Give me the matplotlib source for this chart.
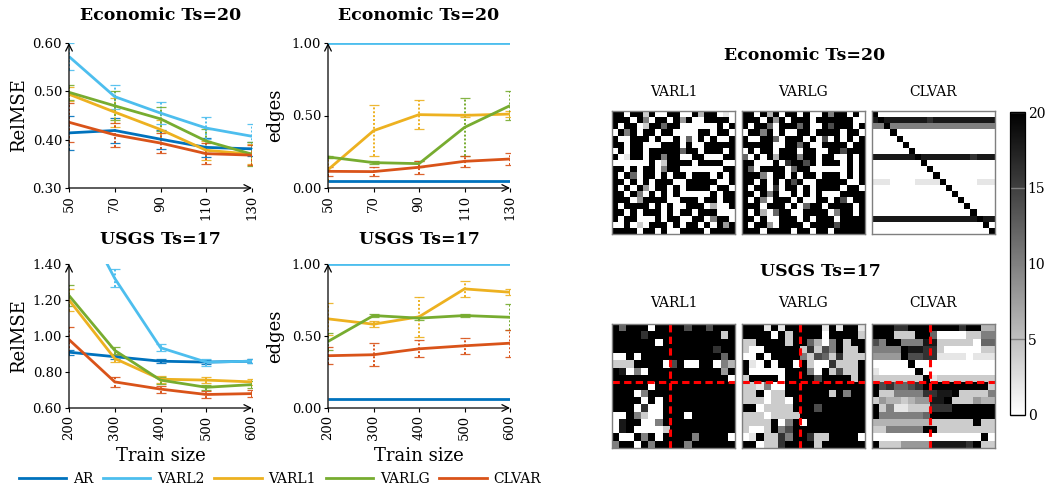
import numpy as np
import matplotlib
matplotlib.use("Agg")
import matplotlib.pyplot as plt
from matplotlib.lines import Line2D

plt.rcParams["font.family"] = ["DejaVu Serif"]
plt.rcParams["mathtext.fontset"] = "dejavuserif"

# ---------------------------------------------------------------- data
methods = ["AR", "VARL2", "VARL1", "VARLG", "CLVAR"]
colors = {"AR": "#0072BD", "VARL2": "#4DBEEE", "VARL1": "#EDB120",
          "VARLG": "#77AC30", "CLVAR": "#D95319"}

econ_train = [50, 70, 90, 110, 130]
econ_relmse = {
    "AR":    [0.414, 0.419, 0.401, 0.384, 0.381],
    "VARL2": [0.572, 0.489, 0.455, 0.424, 0.407],
    "VARL1": [0.494, 0.457, 0.421, 0.378, 0.370],
    "VARLG": [0.498, 0.470, 0.443, 0.397, 0.370],
    "CLVAR": [0.436, 0.410, 0.393, 0.371, 0.368],
}
econ_relmse_err = {
    "AR":    [0.035, 0.025, 0.020, 0.020, 0.015],
    "VARL2": [0.028, 0.025, 0.022, 0.022, 0.025],
    "VARL1": [0.015, 0.030, 0.020, 0.020, 0.020],
    "VARLG": [0.015, 0.030, 0.025, 0.025, 0.025],
    "CLVAR": [0.040, 0.025, 0.020, 0.022, 0.020],
}
econ_edges = {
    "AR":    [0.05, 0.05, 0.05, 0.05, 0.05],
    "VARL2": [1.00, 1.00, 1.00, 1.00, 1.00],
    "VARL1": [0.126, 0.395, 0.506, 0.501, 0.510],
    "VARLG": [0.214, 0.175, 0.168, 0.418, 0.568],
    "CLVAR": [0.115, 0.113, 0.143, 0.184, 0.200],
}
econ_edges_err = {
    "AR":    [0.0, 0.0, 0.0, 0.0, 0.0],
    "VARL2": [0.0, 0.0, 0.0, 0.0, 0.0],
    "VARL1": [0.080, 0.175, 0.100, 0.010, 0.020],
    "VARLG": [0.010, 0.010, 0.020, 0.200, 0.100],
    "CLVAR": [0.030, 0.030, 0.045, 0.040, 0.040],
}

usgs_train = [200, 300, 400, 500, 600]
usgs_relmse = {
    "AR":    [0.910, 0.885, 0.860, 0.855, 0.860],
    "VARL2": [1.800, 1.320, 0.935, 0.855, 0.860],
    "VARL1": [1.200, 0.875, 0.760, 0.755, 0.745],
    "VARLG": [1.225, 0.920, 0.755, 0.715, 0.730],
    "CLVAR": [0.980, 0.745, 0.705, 0.675, 0.680],
}
usgs_relmse_err = {
    "AR":    [0.015, 0.010, 0.010, 0.010, 0.010],
    "VARL2": [0.050, 0.050, 0.020, 0.020, 0.010],
    "VARL1": [0.060, 0.020, 0.020, 0.015, 0.015],
    "VARLG": [0.060, 0.020, 0.020, 0.015, 0.020],
    "CLVAR": [0.070, 0.030, 0.020, 0.020, 0.020],
}
usgs_edges = {
    "AR":    [0.06, 0.06, 0.06, 0.06, 0.06],
    "VARL2": [1.00, 1.00, 1.00, 1.00, 1.00],
    "VARL1": [0.619, 0.582, 0.633, 0.827, 0.804],
    "VARLG": [0.462, 0.642, 0.624, 0.642, 0.630],
    "CLVAR": [0.363, 0.370, 0.411, 0.432, 0.450],
}
usgs_edges_err = {
    "AR":    [0.0, 0.0, 0.0, 0.0, 0.0],
    "VARL2": [0.0, 0.0, 0.0, 0.0, 0.0],
    "VARL1": [0.110, 0.020, 0.140, 0.055, 0.020],
    "VARLG": [0.060, 0.010, 0.010, 0.010, 0.090],
    "CLVAR": [0.060, 0.080, 0.060, 0.055, 0.095],
}

# Connectivity matrices, one string per row:
# '#' = 20, '.' = 0, digit d = 2*d
econ_varl1 = [
    "##.##2#..##..#3##.1.", "###.#5.##.#4#..####.", "#.##.2##6##......#.#",
    ".#5#.##.##....##.##.", "#..###.#..#.6.#.#..#", "##.##...###.#..#####",
    ".#.##.#####6##.###.#", "#.1##.##5##..##...##", "......#.2####.####..",
    "##.#.##.5##.......##", "#.#6.##.#.##.###.#.#", "##.#.#.###..#####..#",
    "#.#.#4.##.#.####.##.", "##.#5.#.#.#.....#.##", "###.4####..###.##.##",
    "#.####.#.#..###.3..#", "##.#.###.#.##.###...", "#.##...#.##..##.5##.",
    "..#.2.###.#.##.#.#4#", "####.##.#..####.####",
]
econ_varlg = [
    "##.#3#.##.#..#5##.#.", "###.#4#.###.######..", "#.##6.###6#..#7###.#",
    ".##5#.#..##.####.##.", "#..##6.###.#.7.#.#.#", "#####..##6#..####.##",
    ".#.##.###.##..##7###", "6.#.#3###5##.##..#.#", "##...#.8##7#.###.#.#",
    "#6.####.6##......#.#", "###5.##.#.##.###.#.#", "##.#.#.#7#..#####..#",
    "#.##.8.##.#.####.##.", "##.#5#..#.#.#...####", "#.#5.###.#..##.#7.##",
    "###.###.#.6##.####.#", "#.#3.6##..####.5##.#", "##.#..###.#.###.####",
    "#.##4.####.####7####", "###.####.##.##.#####",
]
econ_clvar = [
    "#...................", "9#999999989999999999", "55#55555555555555555",
    "...#................", "....#...............", ".....#..............",
    "......#.............", "9999999#999999998999", "........#...........",
    ".........#..........", "..........#.........", "111....1111#.....111",
    "............#.......", ".............#......", "..............#.....",
    "...............#....", "................#...", "99999999999999999#99",
    "..................#.", "...................#",
]
usgs_varl1 = [
    "#6###.####7##7###", "####8##########2#", "######.##########",
    "##############8##", "..#.###########6#", "222####.7#..##.53",
    "#9.5.##########4#", "################.", "#####.###########",
    "###.5############", "####.#.##########", "###.8..##########",
    "..#52..###.######", ".9##..5##########", ".9#....2#########",
    "#..#5#.####5####.", "5##.#5####5######",
]
usgs_varlg = [
    "###1#1#####1#1##1", "####.#2####.####2", "22####2##63.5#2##",
    "2..#####28275#22#", "..#.####527628222", "#1.#.##.#2..8222#",
    "#.....###5.#2722#", "2####.####7####2#", "2215..###########",
    "22#.22######2#5##", "222.22.##########", "##.2222###7######",
    "222.2222#########", "2222#.5#.########", "2..2#57##########",
    ".1#2285##822####.", "##.228####2######",
]
usgs_clvar = [
    "###88#######8##33", "###222##6....2255", "75##5559922222.66",
    "5555#99882.....22", "4444#77881111.111", ".....#...........",
    "1.....#..........", "2222222#122222222", "#786678#########2",
    "#2255558899#22225", "2433234499#222433", "#2511222888######",
    "#5555556#########", "33333333222222#22", "2255555##22222222",
    "...............#.", "#2224444999998#22",
]
usgs_split = 7.5


def decode(rows):
    table = {"#": 20.0, ".": 0.0}
    return np.array([[table[c] if c in table else 2.0 * int(c) for c in r]
                     for r in rows])


# ---------------------------------------------------------------- layout
W, H = 1047, 491
fig = plt.figure(figsize=(W / 100, H / 100), dpi=100)


def px_axes(left, top, right, bottom):
    return fig.add_axes([left / W, 1 - bottom / H, (right - left) / W,
                         (bottom - top) / H])


def line_panel(ax, x, vals, errs, ylim, yticks):
    for m in methods:
        c = colors[m]
        ax.plot(x, vals[m], color=c, lw=2.0, zorder=3, solid_capstyle="butt")
        e = np.array(errs[m])
        if e.any():
            eb = ax.errorbar(x, vals[m], yerr=e, fmt="none", ecolor=c,
                             elinewidth=1.4, capsize=3.5, capthick=0.9,
                             zorder=2)
            eb[2][0].set_linestyle((0, (1, 1)))
            for cap in eb[1]:
                cap.set_alpha(0.9)
    ax.set_xlim(x[0], x[-1])
    ax.set_ylim(*ylim)
    ax.set_xticks(x)
    ax.set_yticks(yticks)
    ax.set_yticklabels([f"{t:.2f}" for t in yticks])
    ax.tick_params(axis="x", rotation=90, labelsize=9.5, length=3,
                   width=0.8, pad=2)
    ax.tick_params(axis="y", labelsize=9.5, length=3, width=0.8, pad=2)
    for s in ax.spines.values():
        s.set_visible(False)
    arrow = dict(arrowstyle="->", lw=0.9, color="black",
                 shrinkA=0, shrinkB=0, mutation_scale=12)
    ax.annotate("", xy=(1, 0), xytext=(0, 0), xycoords="axes fraction",
                arrowprops=arrow, annotation_clip=False, zorder=5)
    ax.annotate("", xy=(0, 1), xytext=(0, 0), xycoords="axes fraction",
                arrowprops=arrow, annotation_clip=False, zorder=5)


ax1 = px_axes(69, 43, 252, 188)
line_panel(ax1, econ_train, econ_relmse, econ_relmse_err, (0.30, 0.60),
           [0.30, 0.40, 0.50, 0.60])
ax2 = px_axes(328, 43, 510, 188)
line_panel(ax2, econ_train, econ_edges, econ_edges_err, (0.0, 1.0),
           [0.0, 0.5, 1.0])
ax3 = px_axes(69, 264, 252, 408)
line_panel(ax3, usgs_train, usgs_relmse, usgs_relmse_err, (0.60, 1.40),
           [0.60, 0.80, 1.00, 1.20, 1.40])
ax4 = px_axes(328, 264, 510, 408)
line_panel(ax4, usgs_train, usgs_edges, usgs_edges_err, (0.0, 1.0),
           [0.0, 0.5, 1.0])

title_kw = dict(ha="center", va="center", fontsize=12.5, fontweight="bold")
fig.text((69 + 252) / 2 / W, 1 - 16 / H, "Economic Ts=20", **title_kw)
fig.text((328 + 510) / 2 / W, 1 - 16 / H, "Economic Ts=20", **title_kw)
fig.text((69 + 252) / 2 / W, 1 - 239 / H, "USGS Ts=17", **title_kw)
fig.text((328 + 510) / 2 / W, 1 - 239 / H, "USGS Ts=17", **title_kw)

lab_kw = dict(ha="center", va="center", rotation=90, fontsize=13)
fig.text(19 / W, 1 - 115 / H, "RelMSE", **lab_kw)
fig.text(275 / W, 1 - 115 / H, "edges", **lab_kw)
fig.text(19 / W, 1 - 336 / H, "RelMSE", **lab_kw)
fig.text(275 / W, 1 - 336 / H, "edges", **lab_kw)
fig.text((69 + 252) / 2 / W, 1 - 456 / H, "Train size", ha="center",
         va="center", fontsize=13)
fig.text((328 + 510) / 2 / W, 1 - 456 / H, "Train size", ha="center",
         va="center", fontsize=13)

handles = [Line2D([], [], color=colors[m], lw=2.0) for m in methods]
fig.legend(handles, methods, loc="center", bbox_to_anchor=(280 / W, 1 - 479 / H),
           ncol=5, frameon=False, fontsize=10, handlelength=3.4,
           columnspacing=0.7, handletextpad=0.5, borderaxespad=0,
           borderpad=0)

# ---------------------------------------------------------------- heatmaps
map_cols = [(612, 735), (742, 865), (872, 995)]
rows_y = [(111, 234), (324, 448)]
mats = [[econ_varl1, econ_varlg, econ_clvar],
        [usgs_varl1, usgs_varlg, usgs_clvar]]
names = ["VARL1", "VARLG", "CLVAR"]
sub_y = [92, 303]

im = None
for r, (top, bot) in enumerate(rows_y):
    for k, (l, rr) in enumerate(map_cols):
        ax = px_axes(l, top, rr, bot)
        im = ax.imshow(decode(mats[r][k]), cmap="gray_r", vmin=0, vmax=20,
                       aspect="auto", interpolation="nearest")
        ax.set_xticks([])
        ax.set_yticks([])
        for s in ax.spines.values():
            s.set_color("#7f7f7f")
            s.set_linewidth(1.0)
        if r == 1:
            dash = dict(color="red", lw=2.2, ls=(0, (2.4, 1.4)))
            ax.axvline(usgs_split, **dash)
            ax.axhline(usgs_split, **dash)
        fig.text((l + rr) / 2 / W, 1 - sub_y[r] / H, names[k], ha="center",
                 va="center", fontsize=10)

fig.text(805 / W, 1 - 55 / H, "Economic Ts=20", **title_kw)
fig.text(820 / W, 1 - 272 / H, "USGS Ts=17", **title_kw)

cax = px_axes(1010, 112, 1025, 415)
cb = fig.colorbar(im, cax=cax, ticks=[0, 5, 10, 15, 20])
cb.outline.set_linewidth(0.9)
cax.tick_params(direction="in", length=10.5, width=1.0, color="#808080",
                labelsize=10, pad=2)

fig.savefig("out.png", dpi=100)
